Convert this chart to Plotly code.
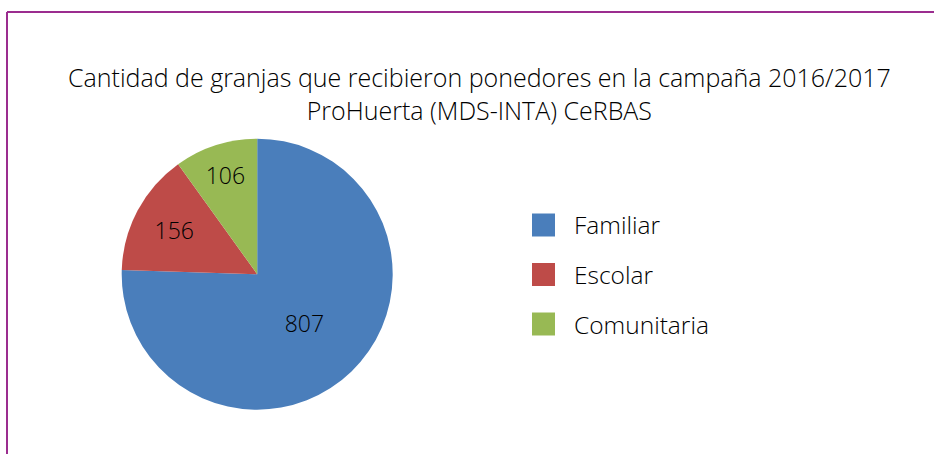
import plotly.graph_objects as go

W, H = 934, 454

title_lines = ["Cantidad de granjas que recibieron ponedores en la campaña 2016/2017",
               "ProHuerta (MDS-INTA) CeRBAS"]
labels = ["Familiar", "Escolar", "Comunitaria"]
values = [807, 156, 106]
colors = ["#4A7EBB", "#BE4B48", "#98B954"]

FONT = "Open Sans"

def px(x):
    return x / W

def py(y):
    return 1 - y / H

cx, cy, r = 257.2, 274.2, 135.5

fig = go.Figure()
fig.add_trace(go.Pie(
    labels=labels,
    values=values,
    sort=False,
    direction="clockwise",
    rotation=0,
    marker=dict(colors=colors, line=dict(width=0)),
    textinfo="value",
    textposition="inside",
    insidetextorientation="horizontal",
    textfont=dict(family=FONT, size=23, color="#000000", weight=300),
    showlegend=False,
    domain=dict(x=[px(cx - r), px(cx + r)], y=[py(cy + r), py(cy - r)]),
    hoverinfo="label+value",
))

shapes = [
    dict(type="line", xref="paper", yref="paper", x0=px(7), x1=px(W + 5), y0=py(12), y1=py(12),
         line=dict(color="#9B2D8F", width=2)),
    dict(type="line", xref="paper", yref="paper", x0=px(7), x1=px(7), y0=py(12), y1=py(H + 5),
         line=dict(color="#9B2D8F", width=2)),
]
annotations = [
    dict(text="<br>".join(title_lines), x=px(479.5), y=py(93), xref="paper", yref="paper",
         xanchor="center", yanchor="middle", showarrow=False, align="center",
         font=dict(family=FONT, size=25, color="#000000", weight=300)),
]

# legend built from the category list
leg_y = [225, 274.5, 324]
for lab, col, yy in zip(labels, colors, leg_y):
    shapes.append(dict(type="rect", xref="paper", yref="paper",
                       x0=px(532), x1=px(555), y0=py(yy + 11.5), y1=py(yy - 11.5),
                       fillcolor=col, line=dict(width=0)))
    annotations.append(dict(text=lab, x=px(572), y=py(yy), xref="paper", yref="paper",
                            xanchor="left", yanchor="middle", showarrow=False,
                            font=dict(family=FONT, size=24.5, color="#000000", weight=300)))

fig.update_layout(
    width=W, height=H,
    margin=dict(l=0, r=0, t=0, b=0),
    paper_bgcolor="#FFFFFF",
    plot_bgcolor="#FFFFFF",
    shapes=shapes,
    annotations=annotations,
    font=dict(family=FONT),
)

fig.write_html("out.html", config={"displayModeBar": False},
               post_script="document.body.style.margin='0';")
